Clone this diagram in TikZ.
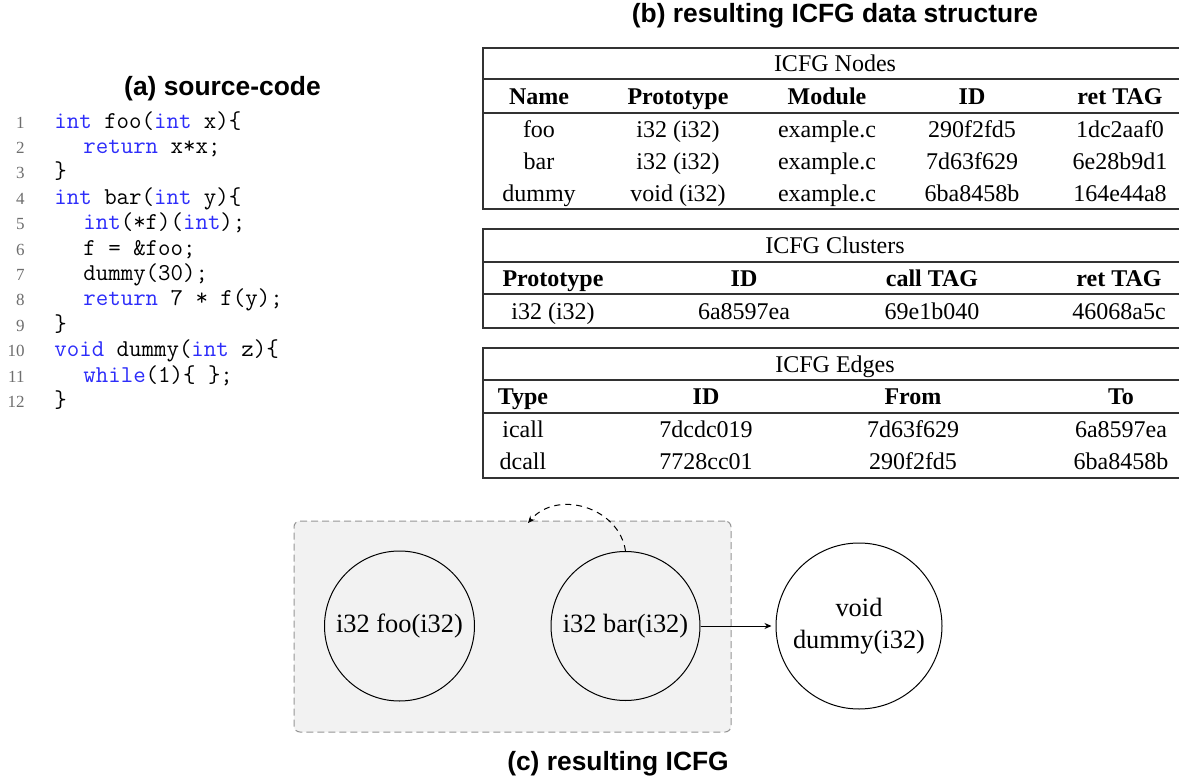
\documentclass[tikz,border=0pt]{standalone}
\usepackage{fontspec}
\setmainfont{Liberation Serif}
\setsansfont{Liberation Sans}
\usetikzlibrary{arrows.meta}
\definecolor{kw}{RGB}{45,45,250}
\definecolor{lnum}{RGB}{110,110,110}
\definecolor{rulec}{RGB}{50,50,50}
\definecolor{clusterfill}{RGB}{242,242,242}
\definecolor{clusterline}{RGB}{150,150,150}
\begin{document}
\begin{tikzpicture}[x=0.5pt,y=-0.5pt,
  ptitle/.style={font=\sffamily\bfseries\fontsize{13.2}{16}\selectfont, inner sep=0, anchor=base},
  codeline/.style={font=\ttfamily\fontsize{12.1}{14}\selectfont, inner sep=0, anchor=base west},
  lno/.style={font=\fontsize{8.5}{10}\selectfont, text=lnum, inner sep=0, anchor=base east},
  cell/.style={font=\fontsize{12}{14}\selectfont, inner sep=0, anchor=base},
  hcell/.style={font=\bfseries\fontsize{12}{14}\selectfont, inner sep=0, anchor=base},
  tabrule/.style={draw=rulec, line width=0.6pt},
  fn/.style={circle, draw, line width=0.5pt, inner sep=0, font=\fontsize{13.2}{16}\selectfont, align=center},
  clusterbox/.style={draw=clusterline, fill=clusterfill, dash pattern=on 3.5pt off 2pt, line width=0.5pt, rounded corners=3pt, inner sep=0},
  flow/.style={-{Stealth[length=3.5pt,width=3pt]}, line width=0.5pt},
]
\useasboundingbox (0,0) rectangle (1179,776);
\fill[white] (0,0) rectangle (1179,776);

% ---------------- (a) source code ----------------
\node[ptitle] (ta) at (222.5,95) {(a) source-code};
\foreach \i/\y in {1/128,2/153.4,3/178.8,4/204.2,5/229.6,6/255,7/280.4,8/305.8,9/331.2,10/356.6,11/382,12/407.4}
  \node[lno] (ln\i) at (25,\y) {\i};
\node[codeline] (c1) at (54,128) {\textcolor{kw}{int} foo(\textcolor{kw}{int} x)\{};
\node[codeline] (c2) at (83,153.4) {\textcolor{kw}{return} x*x;};
\node[codeline] (c3) at (54,178.8) {\}};
\node[codeline] (c4) at (54,204.2) {\textcolor{kw}{int} bar(\textcolor{kw}{int} y)\{};
\node[codeline] (c5) at (83,229.6) {\textcolor{kw}{int}(*f)(\textcolor{kw}{int});};
\node[codeline] (c6) at (83,255) {f = \&foo;};
\node[codeline] (c7) at (83,280.4) {dummy(30);};
\node[codeline] (c8) at (83,305.8) {\textcolor{kw}{return} 7 * f(y);};
\node[codeline] (c9) at (54,331.2) {\}};
\node[codeline] (c10) at (54,356.6) {\textcolor{kw}{void} dummy(\textcolor{kw}{int} z)\{};
\node[codeline] (c11) at (83,382) {\textcolor{kw}{while}(1)\{ \};};
\node[codeline] (c12) at (54,407.4) {\}};

% ---------------- (b) tables ----------------
\node[ptitle] (tb) at (835,23) {(b) resulting ICFG data structure};

% ICFG Nodes
\draw[tabrule] (1179,48) -- (483,48) -- (483,209) -- (1179,209);
\draw[tabrule] (483,79) -- (1179,79);
\draw[tabrule] (483,113) -- (1179,113);
\node[cell] (nT) at (835,71.5) {ICFG Nodes};
\node[hcell] (nH1) at (539,104) {Name};
\node[hcell] (nH2) at (678,104) {Prototype};
\node[hcell] (nH3) at (827,104) {Module};
\node[hcell] (nH4) at (972,104) {ID};
\node[hcell] (nH5) at (1120,104) {ret TAG};
\node[cell] (n11) at (539,137) {foo};
\node[cell] (n12) at (678,137) {i32 (i32)};
\node[cell] (n13) at (827,137) {example.c};
\node[cell] (n14) at (972,137) {290f2fd5};
\node[cell] (n15) at (1120,137) {1dc2aaf0};
\node[cell] (n21) at (539,169) {bar};
\node[cell] (n22) at (678,169) {i32 (i32)};
\node[cell] (n23) at (827,169) {example.c};
\node[cell] (n24) at (972,169) {7d63f629};
\node[cell] (n25) at (1120,169) {6e28b9d1};
\node[cell] (n31) at (539,201) {dummy};
\node[cell] (n32) at (678,201) {void (i32)};
\node[cell] (n33) at (827,201) {example.c};
\node[cell] (n34) at (972,201) {6ba8458b};
\node[cell] (n35) at (1120,201) {164e44a8};

% ICFG Clusters
\draw[tabrule] (1179,229) -- (483,229) -- (483,328) -- (1179,328);
\draw[tabrule] (483,262) -- (1179,262);
\draw[tabrule] (483,294) -- (1179,294);
\node[cell] (kT) at (835,253.5) {ICFG Clusters};
\node[hcell] (kH1) at (553,286) {Prototype};
\node[hcell] (kH2) at (744,286) {ID};
\node[hcell] (kH3) at (932,286) {call TAG};
\node[hcell] (kH4) at (1119,286) {ret TAG};
\node[cell] (k11) at (553,319) {i32 (i32)};
\node[cell] (k12) at (744,319) {6a8597ea};
\node[cell] (k13) at (932,319) {69e1b040};
\node[cell] (k14) at (1119,319) {46068a5c};

% ICFG Edges
\draw[tabrule] (1179,348) -- (483,348) -- (483,478) -- (1179,478);
\draw[tabrule] (483,380) -- (1179,380);
\draw[tabrule] (483,413) -- (1179,413);
\node[cell] (eT) at (835,372) {ICFG Edges};
\node[hcell] (eH1) at (523,404.5) {Type};
\node[hcell] (eH2) at (706,404.5) {ID};
\node[hcell] (eH3) at (913,404.5) {From};
\node[hcell] (eH4) at (1121,404.5) {To};
\node[cell] (e11) at (523,437) {icall};
\node[cell] (e12) at (706,437) {7dcdc019};
\node[cell] (e13) at (913,437) {7d63f629};
\node[cell] (e14) at (1121,437) {6a8597ea};
\node[cell] (e21) at (523,469) {dcall};
\node[cell] (e22) at (706,469) {7728cc01};
\node[cell] (e23) at (913,469) {290f2fd5};
\node[cell] (e24) at (1121,469) {6ba8458b};

% ---------------- (c) ICFG ----------------
\node[clusterbox, minimum width=218.5pt, minimum height=105.5pt] (cluster) at (512.5,626.5) {};
\node[fn, minimum size=75pt] (foo) at (399.5,626) {i32 foo(i32)};
\node[fn, minimum size=74.5pt] (bar) at (625.5,626) {i32 bar(i32)};
\node[fn, minimum size=83pt] (dummy) at (859,626) {void\\dummy(i32)};
\draw[flow, shorten >=2pt] (bar.east) -- (dummy.west);
\coordinate (icallend) at (528,523);
\draw[flow, dash pattern=on 3pt off 2.5pt] (bar.north) .. controls (619,507) and (557,489) .. (icallend);
\node[ptitle] (tc) at (618,770) {(c) resulting ICFG};
\end{tikzpicture}
\end{document}
